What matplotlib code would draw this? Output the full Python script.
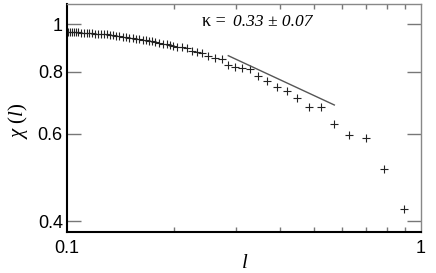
import numpy as np
import matplotlib
matplotlib.use("Agg")
import matplotlib.pyplot as plt
import matplotlib.ticker as ticker

plt.rcParams['mathtext.fontset'] = 'custom'
plt.rcParams['mathtext.rm'] = 'Liberation Serif'
plt.rcParams['mathtext.it'] = 'Liberation Serif:italic'

l_vals = [0.1007, 0.1020, 0.1033, 0.1047, 0.1060, 0.1074, 0.1095, 0.1117,
          0.1137, 0.1156, 0.1177, 0.1200, 0.1223, 0.1248, 0.1272, 0.1297,
          0.1323, 0.1349, 0.1375, 0.1403, 0.1435, 0.1468, 0.1500, 0.1533,
          0.1567, 0.1601, 0.1634, 0.1667, 0.1702, 0.1738, 0.1776, 0.1816,
          0.1864, 0.1913, 0.1954, 0.1997, 0.2049, 0.2117, 0.2183, 0.2251,
          0.2325, 0.2402, 0.2507, 0.2619, 0.2735, 0.2855, 0.2983, 0.3116,
          0.3288, 0.3471, 0.3680, 0.3911, 0.4175, 0.4464, 0.4836, 0.5230,
          0.5690, 0.6273, 0.6979, 0.7848, 0.8954]
chi_vals = [0.9648, 0.9648, 0.9635, 0.9635, 0.9621, 0.9621, 0.9608, 0.9608,
            0.9590, 0.9590, 0.9577, 0.9563, 0.9563, 0.9546, 0.9528, 0.9528,
            0.9510, 0.9492, 0.9475, 0.9457, 0.9435, 0.9413, 0.9391, 0.9370,
            0.9348, 0.9326, 0.9300, 0.9274, 0.9248, 0.9222, 0.9197, 0.9162,
            0.9129, 0.9095, 0.9061, 0.9028, 0.8990, 0.8970, 0.8945, 0.8820,
            0.8792, 0.8751, 0.8630, 0.8550, 0.8498, 0.8265, 0.8178, 0.8140,
            0.8102, 0.7863, 0.7679, 0.7448, 0.7322, 0.7081, 0.6808, 0.6808,
            0.6280, 0.5975, 0.5876, 0.5095, 0.4234]

# power-law guide, slope -kappa
fit_l = [0.2855, 0.5690]
fit_chi = [0.8630, 0.6862]

y_ticks = [0.4, 0.6, 0.8, 1.0]
y_ticklabels = ['0.4', '0.6', '0.8', '1']
x_ticks = [0.1, 1.0]
x_ticklabels = ['0.1', '1']

fig = plt.figure(figsize=(4.36, 2.73), dpi=100)
ax = fig.add_axes([0.1537, 0.1502, 0.8119, 0.8351])

ax.plot(l_vals, chi_vals, linestyle='none', marker='+', markersize=5.5,
        markeredgewidth=0.8, color='#222222')
ax.plot(fit_l, fit_chi, color='#555555', linewidth=1.0)

ax.set_xscale('log')
ax.set_yscale('log')
ax.set_xlim(0.1, 1.0)
ax.set_ylim(0.3801, 1.0975)

ax.xaxis.set_major_locator(ticker.FixedLocator(x_ticks))
ax.xaxis.set_major_formatter(ticker.FixedFormatter(x_ticklabels))
ax.xaxis.set_minor_locator(ticker.LogLocator(base=10, subs=np.arange(2, 10)))
ax.xaxis.set_minor_formatter(ticker.NullFormatter())
ax.yaxis.set_major_locator(ticker.FixedLocator(y_ticks))
ax.yaxis.set_major_formatter(ticker.FixedFormatter(y_ticklabels))
ax.yaxis.set_minor_locator(ticker.NullLocator())

ax.tick_params(axis='y', which='major', direction='in', left=True, right=True,
               length=10, width=1, color='#777777', pad=3,
               labelsize=13, labelfontfamily='Liberation Sans')
ax.tick_params(axis='x', which='major', direction='in', top=True, bottom=True,
               length=0, pad=6, labelsize=13, labelfontfamily='Liberation Sans')
ax.tick_params(axis='x', which='minor', direction='in', top=True, bottom=True,
               length=3.5, width=1, color='#777777')

for side in ['left', 'bottom']:
    ax.spines[side].set_color('black')
    ax.spines[side].set_linewidth(1.5)
for side in ['top', 'right']:
    ax.spines[side].set_color('#888888')
    ax.spines[side].set_linewidth(1.0)

ax.set_xlabel('l', fontsize=15, family='Liberation Serif', style='italic')
ax.xaxis.set_label_coords(0.503, -0.095)
ax.set_ylabel(r'$\chi\ (l)$', fontsize=15)
ax.yaxis.set_label_coords(-0.105, 0.49)

ax.text(0.381, 0.922, 'κ =', transform=ax.transAxes, fontsize=13,
        family='Liberation Serif', ha='left', va='center')
ax.text(0.470, 0.922, '0.33 ± 0.07', transform=ax.transAxes, fontsize=12.5,
        family='Liberation Serif', style='italic', ha='left', va='center')

fig.savefig('out.png', dpi=100)
